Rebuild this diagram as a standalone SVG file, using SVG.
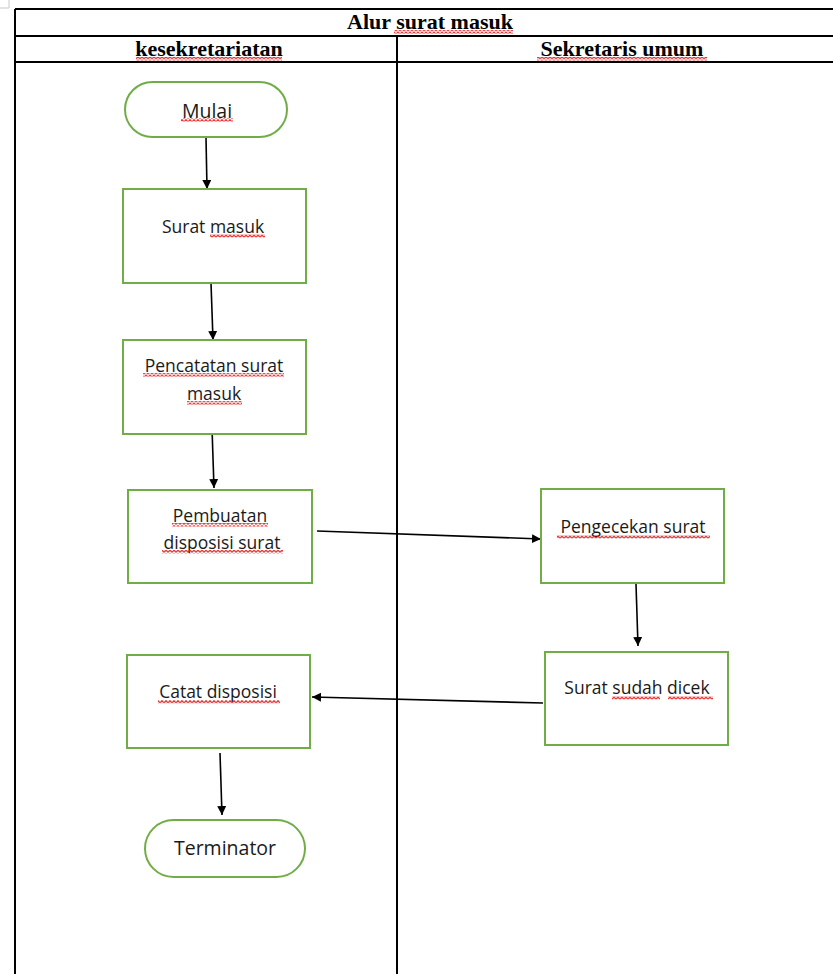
<svg xmlns="http://www.w3.org/2000/svg" width="833" height="974" viewBox="0 0 833 974">
  <style>
    .grid { stroke: #000; stroke-width: 2; fill: none; }
    .head { font-family: "Liberation Serif", "Times New Roman", serif; font-weight: bold; font-size: 22px; fill: #000; text-anchor: middle; }
    .box { fill: #fff; stroke: #70ad47; stroke-width: 2; }
    .lbl { font-family: "Open Sans", "Noto Sans", sans-serif; font-size: 17.5px; fill: #1a1a1a; text-anchor: middle; }
    .term { font-family: "Open Sans", "Noto Sans", sans-serif; font-size: 19.5px; fill: #1a1a1a; text-anchor: middle; }
    .flow { stroke: #000; stroke-width: 1.6; fill: none; marker-end: url(#arrow); }
    .wavy { fill: url(#squiggle); }
  </style>
  <defs>
    <marker id="arrow" markerUnits="userSpaceOnUse" markerWidth="10" markerHeight="10" refX="9" refY="4.5" orient="auto">
      <path d="M0,0 L9,4.5 L0,9 Z" fill="#000"/>
    </marker>
    <pattern id="squiggle" patternUnits="userSpaceOnUse" width="4" height="3.5">
      <polyline points="0,2.8 2,0.7 4,2.8" fill="none" stroke="#e31c1c" stroke-width="1.2"/>
    </pattern>
  </defs>

  <rect width="833" height="974" fill="#fff"/>

  <!-- page corner mark -->
  <path d="M9,0 V8 H0" fill="none" stroke="#c8c8c8" stroke-width="1"/>

  <!-- swimlane table -->
  <g id="table">
    <line class="grid" x1="15" y1="9" x2="833" y2="9"/>
    <line class="grid" x1="15" y1="9" x2="15" y2="974"/>
    <line class="grid" x1="15" y1="36" x2="833" y2="36"/>
    <line class="grid" x1="15" y1="62" x2="833" y2="62"/>
    <line class="grid" x1="397" y1="36" x2="397" y2="974"/>
    <text class="head" x="430" y="29">Alur surat masuk</text>
    <rect class="wavy" x="394" y="30" width="119" height="3.5"/>
    <text class="head" x="209" y="56">kesekretariatan</text>
    <rect class="wavy" x="136" y="57" width="146" height="3.5"/>
    <text class="head" x="622" y="56">Sekretaris umum</text>
    <rect class="wavy" x="537" y="57" width="170" height="3.5"/>
  </g>

  <!-- connectors -->
  <g id="connectors">
    <line class="flow" x1="206" y1="138" x2="207" y2="189"/>
    <line class="flow" x1="211" y1="283" x2="213" y2="340"/>
    <line class="flow" x1="212" y1="428" x2="214" y2="488"/>
    <line class="flow" x1="317" y1="531" x2="541" y2="539"/>
    <line class="flow" x1="636" y1="584" x2="638" y2="646"/>
    <line class="flow" x1="543" y1="703" x2="312" y2="697"/>
    <line class="flow" x1="220" y1="753" x2="222" y2="815"/>
  </g>

  <g id="mulai">
    <rect class="box" x="125" y="82" width="162" height="55" rx="27.5"/>
    <text class="term" x="207" y="118">Mulai</text>
    <rect class="wavy" x="181" y="118" width="52" height="3.5"/>
  </g>

  <g id="surat-masuk">
    <rect class="box" x="123" y="189" width="183" height="94"/>
    <text class="lbl" x="213" y="233">Surat masuk</text>
    <rect class="wavy" x="210" y="234" width="55" height="3.5"/>
  </g>

  <g id="pencatatan">
    <rect class="box" x="123" y="340" width="183" height="94"/>
    <text class="lbl" x="214" y="372">Pencatatan surat</text>
    <text class="lbl" x="214" y="400">masuk</text>
    <rect class="wavy" x="143" y="373" width="141" height="3.5"/>
    <rect class="wavy" x="187" y="401" width="55" height="3.5"/>
  </g>

  <g id="pembuatan">
    <rect class="box" x="128" y="490" width="184" height="93"/>
    <text class="lbl" x="220" y="522">Pembuatan</text>
    <text class="lbl" x="222" y="549">disposisi surat</text>
    <rect class="wavy" x="172" y="523" width="96" height="3.5"/>
    <rect class="wavy" x="162" y="550" width="121" height="3.5"/>
  </g>

  <g id="pengecekan">
    <rect class="box" x="541" y="489" width="183" height="94"/>
    <text class="lbl" x="633" y="533">Pengecekan surat</text>
    <rect class="wavy" x="557" y="535" width="153" height="3.5"/>
  </g>

  <g id="sudah-dicek">
    <rect class="box" x="545" y="652" width="183" height="93"/>
    <text class="lbl" x="637" y="694">Surat sudah dicek</text>
    <rect class="wavy" x="612" y="696" width="48" height="3.5"/>
    <rect class="wavy" x="668" y="696" width="45" height="3.5"/>
  </g>

  <g id="catat-disposisi">
    <rect class="box" x="127" y="655" width="183" height="93"/>
    <text class="lbl" x="218" y="698">Catat disposisi</text>
    <rect class="wavy" x="158" y="700" width="122" height="3.5"/>
  </g>

  <g id="terminator">
    <rect class="box" x="145" y="820" width="160" height="57" rx="28.5"/>
    <text class="term" x="225" y="855">Terminator</text>
  </g>
</svg>
